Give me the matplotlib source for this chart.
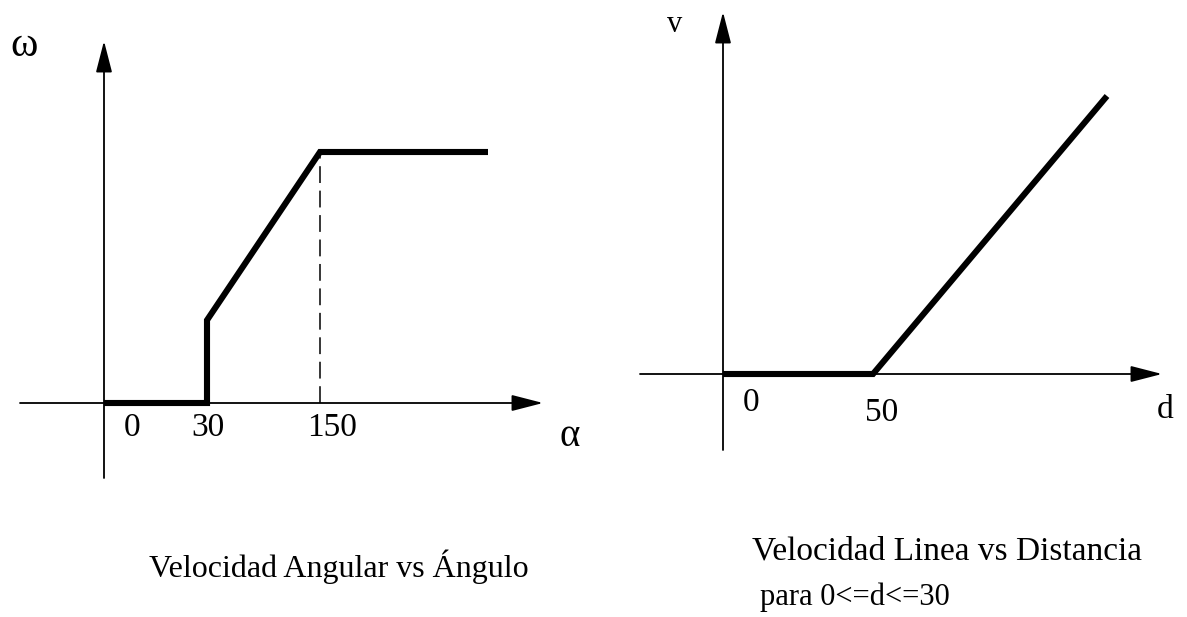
import matplotlib.pyplot as plt
import numpy as np

# Velocidad angular vs angulo (sketch, omega normalised to 1)
alpha = [0, 30, 30, 150, 180]
omega = [0, 0, 0.33, 1.0, 1.0]
alpha_ticks = [0, 30, 150]

# Velocidad lineal vs distancia (v normalised to 1)
dist = [0, 50, 128]
vel = [0, 0, 1.0]
dist_ticks = [0, 50]

plt.rcParams['font.family'] = ['Liberation Serif', 'DejaVu Serif']

W, H = 1187, 617
fig = plt.figure(figsize=(W / 100, H / 100), dpi=100)


def fx(px):
    return px / W


def fy(py):
    return 1 - py / H


# the alpha axis of the sketch is not to scale -> piecewise scale (alpha -> px)
knots_a = [-100, 0, 30, 150, 180, 500]
knots_px = [-343, 0, 103, 216, 384, 384 + 320 * 5.6]


def fwd(x):
    return np.interp(x, knots_a, knots_px)


def inv(p):
    return np.interp(p, knots_px, knots_a)


arrow = dict(arrowstyle='-|>,head_length=0.97,head_width=0.25', mutation_scale=20,
             lw=1.3, color='black', shrinkA=0, shrinkB=0)
thick = dict(color='black', lw=4.4, solid_capstyle='butt', solid_joinstyle='miter')

# ---- left diagram
ax1 = fig.add_axes([0, 0, 1, 1])
ax1.set_xscale('function', functions=(fwd, inv))
ax1.set_xlim(inv(-104), inv(W - 104))
ax1.set_ylim((403 - H) / 251, 403 / 251)
ax1.axis('off')

ax1.annotate('', xy=(inv(439), 0), xytext=(inv(-84), 0), arrowprops=arrow)
ax1.annotate('', xy=(0, 362 / 251), xytext=(0, -75 / 251), arrowprops=arrow)
ax1.plot(alpha, omega, **thick)
ax1.vlines(alpha[3], 0, omega[3], colors='black', lw=1.1, linestyles=(0, (11, 5)))

for a, dx in zip(alpha_ticks, [28, 1, 12]):
    ax1.annotate(str(a), (a, 0), xytext=(dx, -25), textcoords='offset pixels',
                 ha='center', va='center', fontsize=24)

fig.text(fx(24), fy(46), 'ω', ha='center', va='center', fontsize=30)
fig.text(fx(570), fy(436), 'α', ha='center', va='center', fontsize=28)
fig.text(fx(339), fy(567), 'Velocidad Angular vs Ángulo', ha='center', va='center', fontsize=23)

# ---- right diagram
ax2 = fig.add_axes([0, 0, 1, 1])
ax2.set_xlim(-723 / 3, (W - 723) / 3)
ax2.set_ylim((374 - H) / 278, 374 / 278)
ax2.axis('off')

ax2.annotate('', xy=((1162 - 723) / 3, 0), xytext=((640 - 723) / 3, 0), arrowprops=arrow)
ax2.annotate('', xy=(0, 362 / 278), xytext=(0, -76 / 278), arrowprops=arrow)
ax2.plot(dist, vel, **thick)

for d, dx, dy in zip(dist_ticks, [28, 9], [-29, -39]):
    ax2.annotate(str(d), (d, 0), xytext=(dx, dy), textcoords='offset pixels',
                 ha='center', va='center', fontsize=24)

fig.text(fx(675), fy(24), 'v', ha='center', va='center', fontsize=22)
fig.text(fx(1165), fy(410), 'd', ha='center', va='center', fontsize=24)
fig.text(fx(947), fy(551), 'Velocidad Linea vs Distancia', ha='center', va='center', fontsize=24)
fig.text(fx(855), fy(597), 'para 0<=d<=30', ha='center', va='center', fontsize=22)

fig.savefig('out.png', dpi=100)
